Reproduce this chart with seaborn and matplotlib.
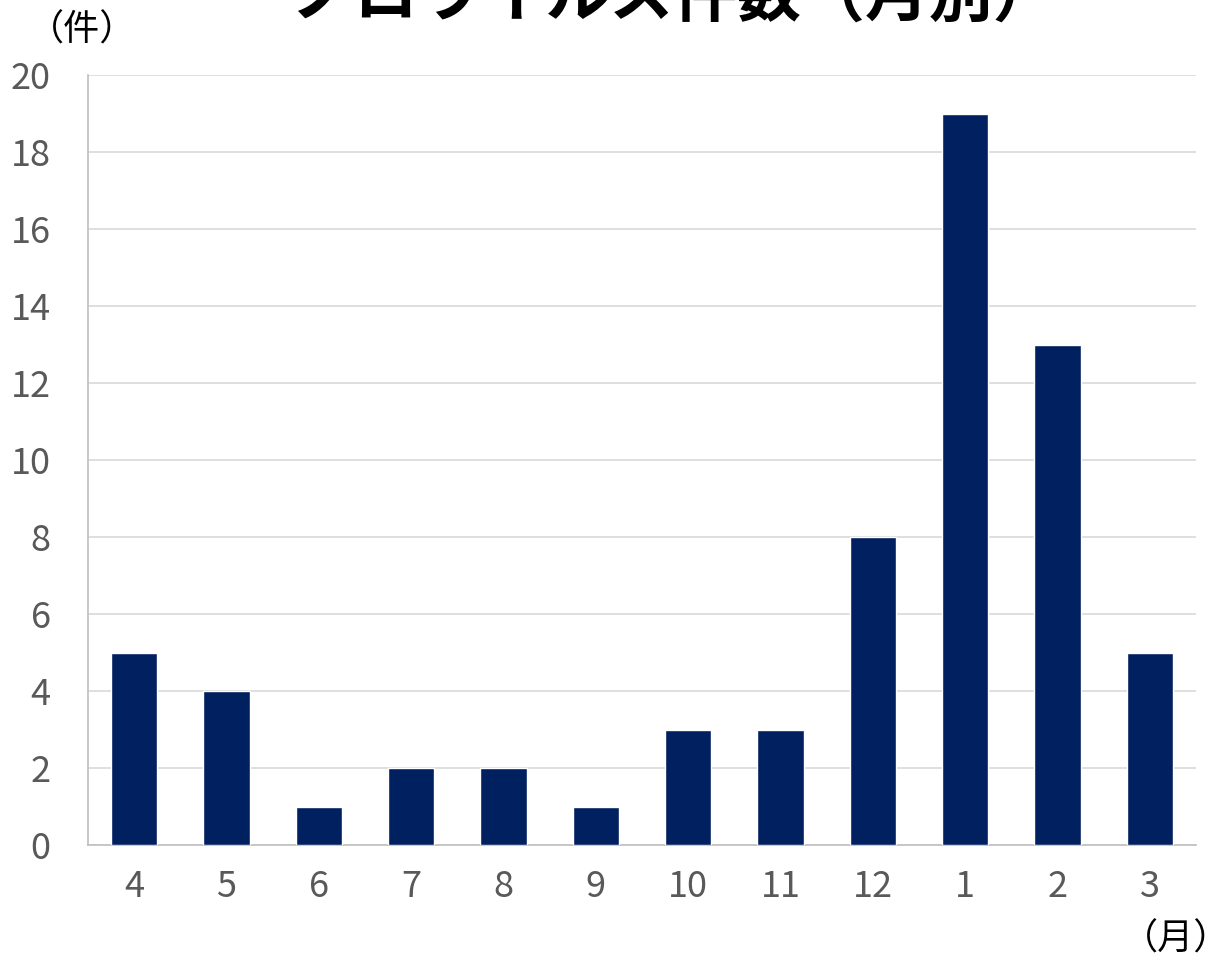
import matplotlib
matplotlib.use("Agg")
import matplotlib.pyplot as plt
import seaborn as sns
import pandas as pd

months = ["4", "5", "6", "7", "8", "9", "10", "11", "12", "1", "2", "3"]
counts = [5, 4, 1, 2, 2, 1, 3, 3, 8, 19, 13, 5]
y_ticks = [0, 2, 4, 6, 8, 10, 12, 14, 16, 18, 20]

sns.set_theme(style="white")
plt.rcParams["font.family"] = ["Noto Sans CJK JP", "DejaVu Sans"]

df = pd.DataFrame({"month": months, "count": counts})

fig = plt.figure(figsize=(12.31, 9.63), dpi=100)
ax = fig.add_axes([0.0715, 0.1225, 0.9001, 0.7996])

sns.barplot(data=df, x="month", y="count", order=months, color="#002060",
            saturation=1, width=0.5, ax=ax, zorder=3)

ax.set_ylim(0, 20)
ax.set_xlim(-0.5, len(months) - 0.5)
ax.set_yticks(y_ticks)
ax.set_yticklabels([str(v) for v in y_ticks])
ax.grid(axis="y", color="#d9d9d9", linewidth=1.2, zorder=0)
ax.grid(axis="x", visible=False)
ax.set_xlabel("")
ax.set_ylabel("")

for side in ["top", "right"]:
    ax.spines[side].set_visible(False)
for side in ["left", "bottom"]:
    ax.spines[side].set_color("#bfbfbf")
    ax.spines[side].set_linewidth(1.2)

ax.tick_params(axis="both", length=0, labelsize=26, colors="#595959")
ax.tick_params(axis="y", pad=27)
ax.tick_params(axis="x", pad=17)

fig.text(0.547, 1.002, "ノロウイルス件数（月別）", ha="center", va="center",
         fontsize=46, fontweight="bold", color="black")
fig.text(0.067, 0.968, "（件）", ha="center", va="center", fontsize=26, color="black")
fig.text(0.999, 0.024, "（月）", ha="right", va="center", fontsize=26, color="black")

fig.savefig("out.png", dpi=100)
